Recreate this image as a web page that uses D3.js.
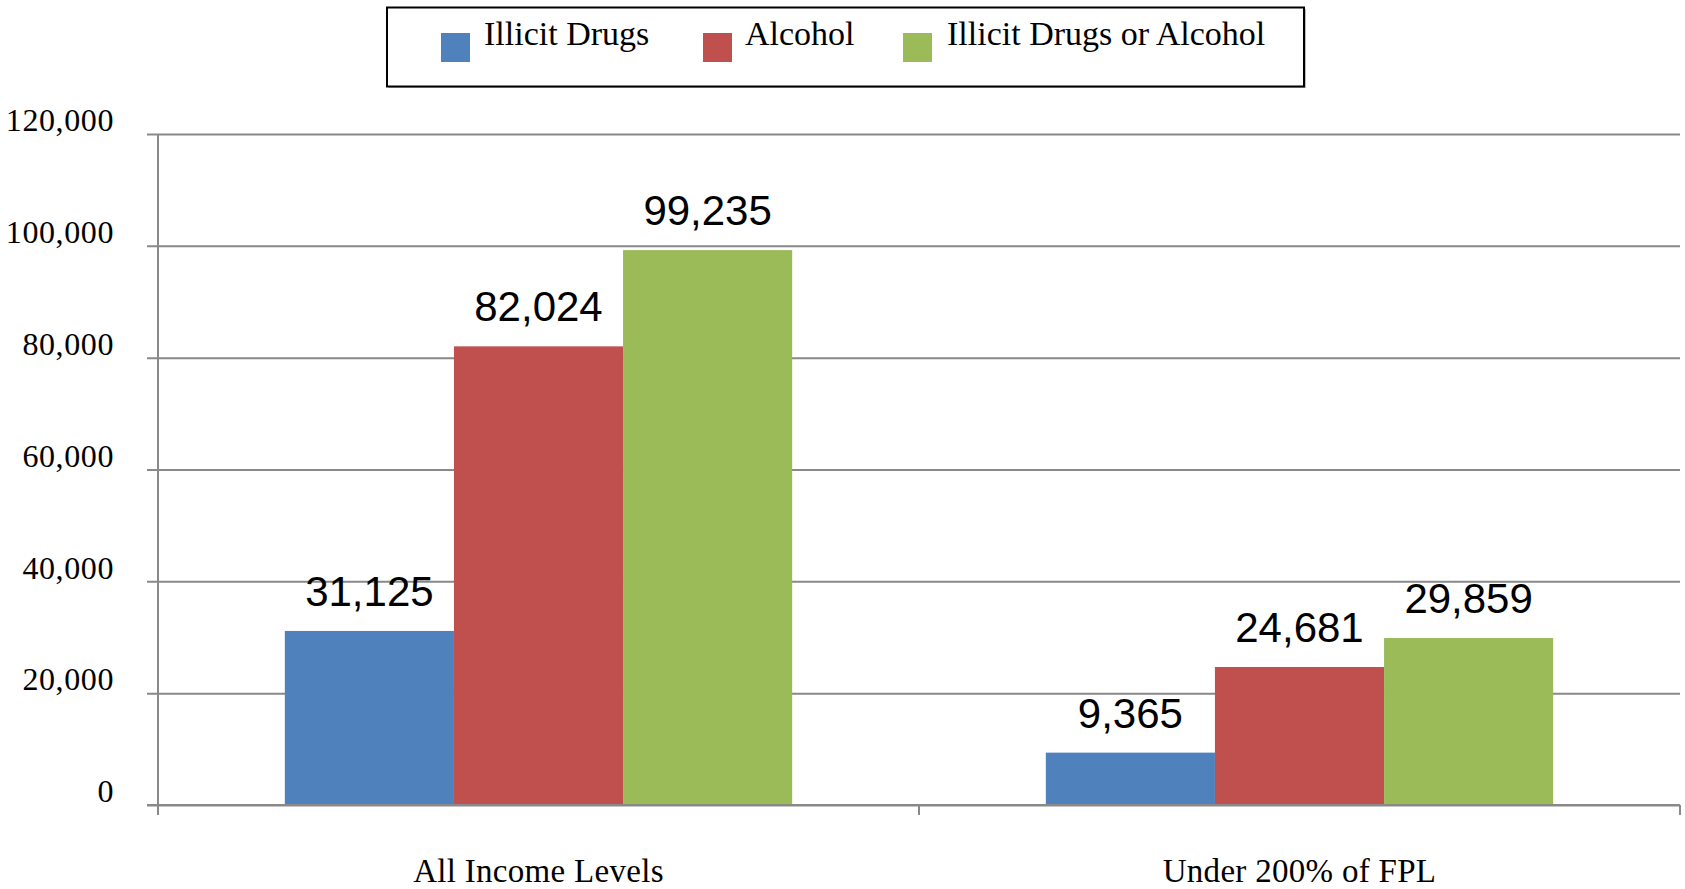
<!DOCTYPE html>
<html><head><meta charset="utf-8">
<script src="https://cdn.jsdelivr.net/npm/d3@7"></script>
<style>body{margin:0;background:#fff;} svg{display:block;}</style>
</head><body>
<svg id="c" width="1685" height="889"></svg>
<script>
const categories = ["All Income Levels", "Under 200% of FPL"];
const series = ["Illicit Drugs", "Alcohol", "Illicit Drugs or Alcohol"];
const illicitDrugs = [31125, 9365];
const alcohol = [82024, 24681];
const drugsOrAlcohol = [99235, 29859];
const yTicks = [0, 20000, 40000, 60000, 80000, 100000, 120000];
const colors = ["#4F81BD", "#C0504D", "#9BBB59"];

const values = [illicitDrugs, alcohol, drugsOrAlcohol];
const svg = d3.select("#c");
const L = 158, R = 1680, T = 134, B = 805;

const x0 = d3.scaleBand().domain(categories).range([L, R]).padding(0);
const x1 = d3.scaleBand().domain(series).range([0, x0.bandwidth()]).paddingInner(0).paddingOuter(0.75);
const y = d3.scaleLinear().domain([0, 120000]).range([B, T]);

const fmt = d3.format(",");
const grid = "#898989";

// gridlines + y labels
const ya = svg.append("g").attr("transform", `translate(${L},0)`)
  .call(d3.axisLeft(y).tickValues(yTicks).tickSize(-(R - L)).tickFormat(fmt));
ya.select(".domain").remove();
ya.selectAll(".tick line").attr("x1", -11).attr("stroke", grid).attr("stroke-width", 2);
ya.selectAll(".tick text")
  .attr("x", -44).attr("dy", "-0.1em").attr("y", 0)
  .attr("text-anchor", "end")
  .attr("dominant-baseline", "auto")
  .attr("font-family", "'Liberation Serif', serif").attr("font-size", 32)
  .attr("letter-spacing", "0.6px").attr("fill", "#000");

// bars
series.forEach((s, si) => {
  svg.append("g").selectAll("rect").data(categories).join("rect")
    .attr("x", c => x0(c) + x1(s))
    .attr("width", x1.bandwidth())
    .attr("y", (c, i) => y(values[si][i]))
    .attr("height", (c, i) => y(0) - y(values[si][i]))
    .attr("fill", colors[si]);
  svg.append("g").selectAll("text").data(categories).join("text")
    .attr("x", c => x0(c) + x1(s) + x1.bandwidth() / 2)
    .attr("y", (c, i) => y(values[si][i]) - 25)
    .attr("text-anchor", "middle")
    .attr("font-family", "'Liberation Sans', Arial, sans-serif").attr("font-size", 42).attr("fill", "#000")
    .text((c, i) => fmt(values[si][i]));
});

// axes lines
svg.append("line").attr("x1", L).attr("x2", L).attr("y1", T).attr("y2", B + 10).attr("stroke", grid).attr("stroke-width", 2);
svg.append("line").attr("x1", L - 11).attr("x2", R).attr("y1", B).attr("y2", B).attr("stroke", grid).attr("stroke-width", 2);
const xa = svg.append("g").attr("transform", `translate(0,${B})`)
  .call(d3.axisBottom(x0).tickSize(0).tickFormat(d => d));
xa.select(".domain").remove();
xa.selectAll(".tick text").attr("y", 77).attr("dy", 0)
  .attr("font-family", "'Liberation Serif', serif").attr("font-size", 33).attr("fill", "#000")
  .attr("letter-spacing", "0.3px");
// category boundary ticks
const bounds = [L, x0(categories[1]), R];
svg.append("g").selectAll("line").data(bounds).join("line")
  .attr("x1", d => d).attr("x2", d => d).attr("y1", B).attr("y2", B + 10)
  .attr("stroke", grid).attr("stroke-width", 2);

// legend
const lg = svg.append("g");
lg.append("rect").attr("x", 389).attr("y", 9).attr("width", 917).attr("height", 79).attr("fill", "#bbb");
lg.append("rect").attr("x", 387).attr("y", 7.5).attr("width", 917).attr("height", 79)
  .attr("fill", "#fff").attr("stroke", "#000").attr("stroke-width", 2);
const legX = [441, 703, 903];
const legTX = [484, 745, 947];
series.forEach((s, i) => {
  lg.append("rect").attr("x", legX[i]).attr("y", 33).attr("width", 29).attr("height", 29).attr("fill", colors[i]);
  lg.append("text").attr("x", legTX[i]).attr("y", 45)
    .attr("font-family", "'Liberation Serif', serif").attr("font-size", 34).attr("fill", "#000").text(s);
});
</script>
</body></html>
